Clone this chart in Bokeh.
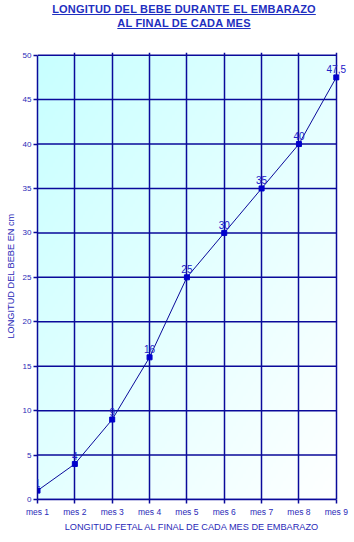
from bokeh.plotting import figure
from bokeh.models import ColumnDataSource, LabelSet, FixedTicker, Div
from bokeh.layouts import column
from bokeh.embed import file_html
from bokeh.resources import INLINE
from bokeh.core.properties import value
import numpy as np

# ---- data ----
months = ["mes 1", "mes 2", "mes 3", "mes 4", "mes 5", "mes 6", "mes 7", "mes 8", "mes 9"]
lengths_cm = [1, 4, 9, 16, 25, 30, 35, 40, 47.5]
point_labels = ["1", "4", "9", "16", "25", "30", "35", "40", "47,5"]
y_ticks = [0, 5, 10, 15, 20, 25, 30, 35, 40, 45, 50]
title_line1 = "LONGITUD DEL BEBE DURANTE EL EMBARAZO"
title_line2 = "AL FINAL DE CADA MES"
x_title = "LONGITUD FETAL AL FINAL DE CADA MES DE EMBARAZO"
y_title = "LONGITUD DEL BEBE EN cm"

month_pos = list(range(1, len(months) + 1))
x_lo, x_hi = month_pos[0], month_pos[-1]
y_lo, y_hi = y_ticks[0], y_ticks[-1]

FONT = "Liberation Sans"
DARK = "#0a0a9a"
TXT = "#2a2ab8"

src = ColumnDataSource(dict(x=month_pos, y=lengths_cm, label=point_labels))
hgrid = ColumnDataSource(dict(x0=[x_lo] * len(y_ticks), x1=[x_hi] * len(y_ticks), y=y_ticks))

# frame extends a little past the last month / top value so edge marks are not clipped
p = figure(width=354, height=497, x_range=(x_lo, x_hi + 0.3), y_range=(y_lo, y_hi + 0.3),
           output_backend="svg", toolbar_location=None,
           min_border_left=37, min_border_right=7, min_border_top=7, min_border_bottom=43,
           background_fill_color="white", border_fill_color="white")

# background gradient (style only)
ny, nx = 120, 120
u = np.linspace(0, 1, nx)[None, :]
v = np.linspace(0, 1, ny)[:, None]  # row 0 = bottom
t = np.clip((u + (1 - v)) / 2.0, 0, 1)
c0 = np.array([200, 255, 255])
c1 = np.array([255, 255, 255])
img = np.empty((ny, nx), dtype=np.uint32)
view = img.view(dtype=np.uint8).reshape((ny, nx, 4))
for k in range(3):
    view[:, :, k] = (c0[k] + (c1[k] - c0[k]) * t).astype(np.uint8)
view[:, :, 3] = 255
p.image_rgba(image=[img], x=x_lo, y=y_lo, dw=x_hi - x_lo, dh=y_hi - y_lo, level="image")

# grid
p.xgrid.ticker = FixedTicker(ticks=month_pos)
p.xgrid.grid_line_color = DARK
p.xgrid.grid_line_width = 1.5
p.xgrid.grid_line_alpha = 1.0
p.xgrid.bounds = (x_lo, x_hi)
p.ygrid.grid_line_color = None
p.segment(x0="x0", y0="y", x1="x1", y1="y", source=hgrid, line_color=DARK,
          line_width=1.5, level="underlay")
p.outline_line_color = None

# axes
p.xaxis.ticker = FixedTicker(ticks=month_pos)
p.xaxis.bounds = (x_lo, x_hi)
p.xaxis.major_label_overrides = {i: m for i, m in zip(month_pos, months)}
p.yaxis.ticker = FixedTicker(ticks=y_ticks)
p.yaxis.bounds = (y_lo, y_hi)
for ax in (p.xaxis, p.yaxis):
    ax.axis_line_color = DARK
    ax.axis_line_width = 1.5
    ax.major_tick_line_color = DARK
    ax.major_tick_line_width = 1.5
    ax.major_tick_in = 0
    ax.major_tick_out = 4
    ax.minor_tick_line_color = None
    ax.major_label_text_color = TXT
    ax.major_label_text_font = FONT
    ax.major_label_text_font_size = "8px"
    ax.axis_label_text_color = TXT
    ax.axis_label_text_font = FONT
    ax.axis_label_text_font_size = "9.2px"
    ax.axis_label_text_font_style = "normal"
p.xaxis.major_label_standoff = 3
p.xaxis.major_label_text_font_size = "8.5px"
p.yaxis.major_label_standoff = 2
p.xaxis.axis_label = x_title
p.yaxis.axis_label = y_title
p.xaxis.axis_label_standoff = 2
p.yaxis.axis_label_standoff = 4

# data
p.line("x", "y", source=src, line_color=DARK, line_width=1)
p.scatter("x", "y", source=src, marker="square", size=5, color="#0000cc")
labels = LabelSet(x="x", y="y", text="label", source=src, text_align="center",
                  text_baseline="bottom", y_offset=4, text_font=value(FONT),
                  text_font_size="10px", text_color="#2020c8")
p.add_layout(labels)

title_div = Div(
    text=(f"<div style=\"width:354px;text-align:center;font-family:'Liberation Sans',Arial,sans-serif;"
          f"font-weight:bold;font-size:11px;color:#1f2fc0;text-decoration:underline;"
          f"line-height:14px;letter-spacing:0.2px;padding-top:2px;padding-left:14px;box-sizing:border-box\">"
          f"{title_line1}<br>{title_line2}</div>"),
    width=354, height=45, margin=0)

layout = column(title_div, p, spacing=0)
open("out.html", "w").write(file_html(layout, INLINE))
